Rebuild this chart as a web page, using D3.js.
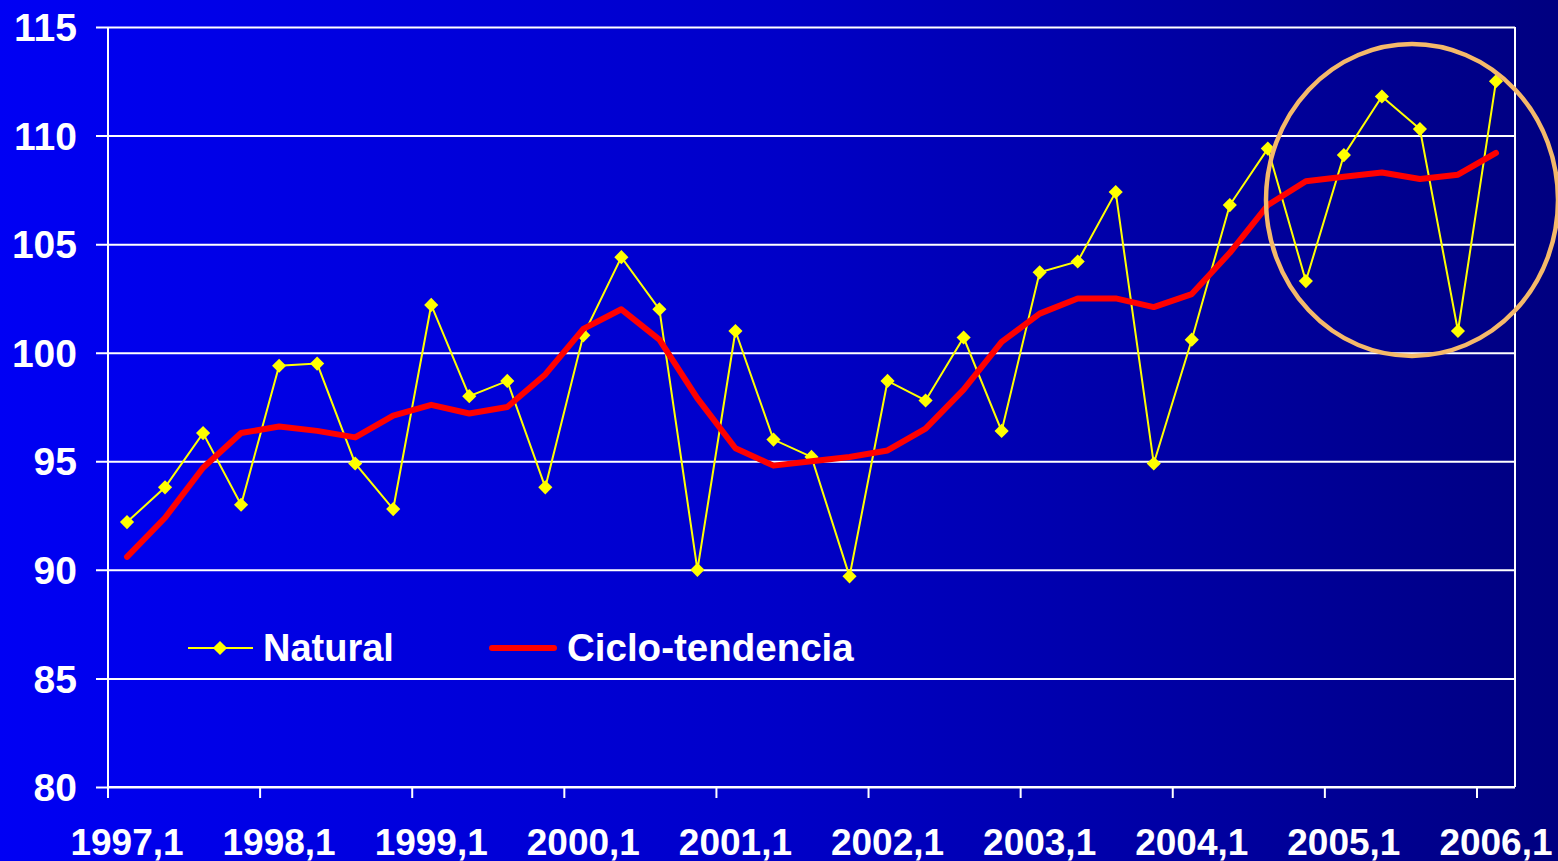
<!DOCTYPE html>
<html>
<head>
<meta charset="utf-8">
<script src="https://cdn.jsdelivr.net/npm/d3@7"></script>
<style>
  html, body { margin: 0; padding: 0; }
  body { width: 1558px; height: 861px; overflow: hidden; }
  svg text { font-family: "Liberation Sans", Arial, sans-serif; font-weight: bold; fill: #fff; }
</style>
</head>
<body>
<svg id="chart" width="1558" height="861"></svg>
<script>
// quarterly index, 1997 Q1 .. 2006 Q1
const years = d3.range(1997, 2007);
const quarters = years.flatMap(y => [1, 2, 3, 4].map(q => `${y},${q}`)).slice(0, 37);

const natural = [
  92.2, 93.8, 96.3, 93.0, 99.4, 99.5, 94.9, 92.8,
  102.2, 98.0, 98.7, 93.8, 100.8, 104.4, 102.0, 90.0,
  101.0, 96.0, 95.2, 89.7, 98.7, 97.8, 100.7, 96.4,
  103.7, 104.2, 107.4, 94.9, 100.6, 106.8, 109.4, 103.3,
  109.1, 111.8, 110.3, 101.0, 112.5
];

const cicloTendencia = [
  90.6, 92.4, 94.7, 96.3, 96.6, 96.4, 96.1, 97.1,
  97.6, 97.2, 97.5, 99.0, 101.1, 102.0, 100.6, 97.9,
  95.6, 94.8, 95.0, 95.2, 95.5, 96.5, 98.3, 100.5,
  101.8, 102.5, 102.5, 102.1, 102.7, 104.6, 106.8, 107.9,
  108.1, 108.3, 108.0, 108.2, 109.2
];

const yTicks = [80, 85, 90, 95, 100, 105, 110, 115];

const svg = d3.select('#chart');
const margin = { top: 27, right: 43, bottom: 74, left: 108 };
const W = 1558, H = 861;
const iw = W - margin.left - margin.right;
const ih = H - margin.top - margin.bottom;

// background gradient
const defs = svg.append('defs');
const grad = defs.append('linearGradient').attr('id', 'bg').attr('x1', 0).attr('x2', 1).attr('y1', 0).attr('y2', 0);
grad.append('stop').attr('offset', '0%').attr('stop-color', '#0000f4');
grad.append('stop').attr('offset', '50%').attr('stop-color', '#0000c8');
grad.append('stop').attr('offset', '100%').attr('stop-color', '#000080');
svg.append('rect').attr('width', W).attr('height', H).attr('fill', 'url(#bg)');

const g = svg.append('g').attr('transform', `translate(${margin.left},${margin.top})`);

const x = d3.scaleBand().domain(quarters).range([0, iw]);
const y = d3.scaleLinear().domain([80, 115]).range([ih, 0]);
const cx = d => x(d) + x.bandwidth() / 2;

// gridlines + y axis
const yAxis = g.append('g')
  .call(d3.axisLeft(y).tickValues(yTicks).tickSize(-iw).tickSizeOuter(0).tickPadding(31));
yAxis.select('.domain').remove();
yAxis.selectAll('.tick line').attr('stroke', '#fff').attr('stroke-width', 2).attr('x1', -12);
yAxis.selectAll('.tick text').attr('font-size', 39).attr('dy', '0.35em');

// frame
g.append('line').attr('x1', 0).attr('x2', 0).attr('y1', 0).attr('y2', ih + 11).attr('stroke', '#fff').attr('stroke-width', 2);
g.append('line').attr('x1', iw).attr('x2', iw).attr('y1', 0).attr('y2', ih).attr('stroke', '#fff').attr('stroke-width', 2);

// x axis: ticks on band boundaries every year, labels at Q1 centres
const yearStarts = quarters.filter(q => q.endsWith(',1'));
const xAxis = g.append('g').attr('transform', `translate(0,${ih})`);
xAxis.append('line').attr('x1', 0).attr('x2', iw).attr('stroke', '#fff').attr('stroke-width', 2);
xAxis.selectAll('.xtick').data(yearStarts).join('line')
  .attr('class', 'xtick')
  .attr('x1', d => x(d)).attr('x2', d => x(d))
  .attr('y1', 0).attr('y2', 11)
  .attr('stroke', '#fff').attr('stroke-width', 2);
xAxis.selectAll('.xlab').data(yearStarts).join('text')
  .attr('class', 'xlab')
  .attr('x', d => cx(d)).attr('y', 68)
  .attr('text-anchor', 'middle')
  .attr('font-size', 37)
  .text(d => d);

// series
const lineNat = d3.line().x((d, i) => cx(quarters[i])).y(d => y(d));
g.append('path').datum(natural).attr('d', lineNat)
  .attr('fill', 'none').attr('stroke', '#ffff00').attr('stroke-width', 2);
g.selectAll('.mk').data(natural).join('path')
  .attr('class', 'mk')
  .attr('transform', (d, i) => `translate(${cx(quarters[i])},${y(d)}) rotate(45)`)
  .attr('d', d3.symbol().type(d3.symbolSquare).size(100)())
  .attr('fill', '#ffff00');

g.append('path').datum(cicloTendencia).attr('d', lineNat)
  .attr('fill', 'none').attr('stroke', '#ff0000').attr('stroke-width', 6)
  .attr('stroke-linecap', 'round').attr('stroke-linejoin', 'round');

// highlight ellipse
svg.append('ellipse')
  .attr('cx', 1412).attr('cy', 200).attr('rx', 146).attr('ry', 156)
  .attr('fill', 'none').attr('stroke', '#f5b96a').attr('stroke-width', 4.5);

// legend
const lg = svg.append('g').attr('transform', 'translate(188,648)');
lg.append('line').attr('x1', 0).attr('x2', 65).attr('stroke', '#ffff00').attr('stroke-width', 2);
lg.append('path').attr('transform', 'translate(32,0) rotate(45)')
  .attr('d', d3.symbol().type(d3.symbolSquare).size(100)()).attr('fill', '#ffff00');
lg.append('text').attr('x', 75).attr('y', 0).attr('dy', '0.35em').attr('font-size', 38).text('Natural');
lg.append('line').attr('x1', 304).attr('x2', 366).attr('stroke', '#ff0000').attr('stroke-width', 6).attr('stroke-linecap', 'round');
lg.append('text').attr('x', 379).attr('y', 0).attr('dy', '0.35em').attr('font-size', 38.5).text('Ciclo-tendencia');
</script>
</body>
</html>
